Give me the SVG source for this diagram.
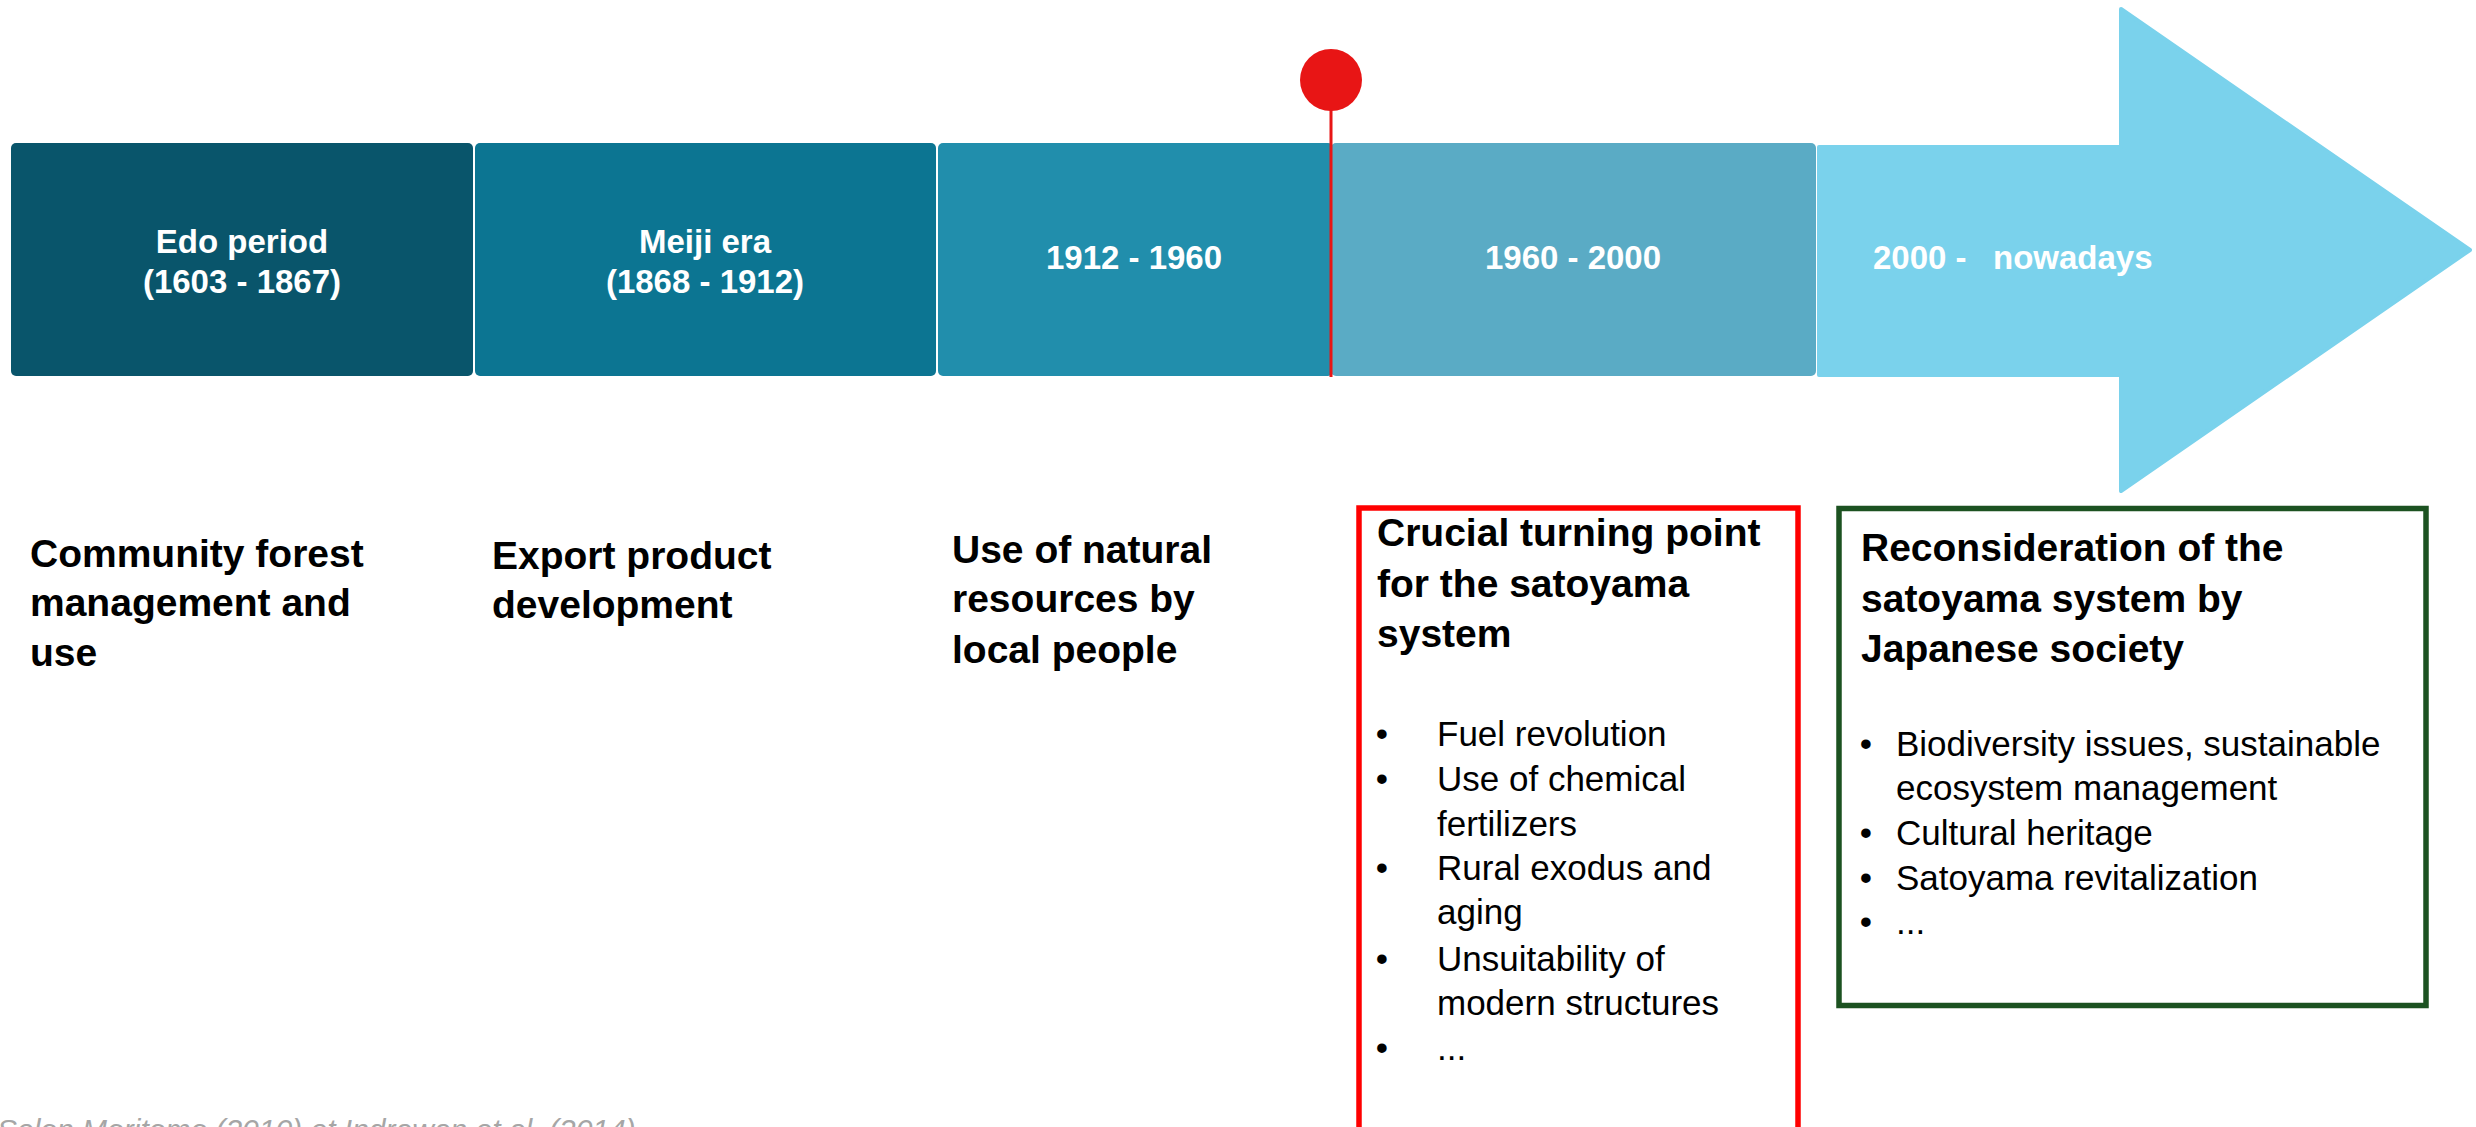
<svg xmlns="http://www.w3.org/2000/svg" width="2476" height="1127" viewBox="0 0 2476 1127">
  <style>
    .era { font-family: "Liberation Sans", Arial, sans-serif; font-weight: bold; font-size: 33px; fill: #ffffff; }
    .head { font-family: "Liberation Sans", Arial, sans-serif; font-weight: bold; font-size: 39px; fill: #000000; }
    .bul { font-family: "Liberation Sans", Arial, sans-serif; font-size: 35px; fill: #000000; }
    .dot { font-family: "Liberation Sans", Arial, sans-serif; font-size: 35px; fill: #000000; text-anchor: middle; }
    .cite { font-family: "Liberation Sans", Arial, sans-serif; font-style: italic; font-size: 30px; fill: #a6a6a6; }
  </style>
  <rect x="0" y="0" width="2476" height="1127" fill="#ffffff"/>

  <g id="node-edo">
    <rect x="11" y="143" width="462" height="233" rx="5" fill="#09556b"/>
    <text class="era" x="242" y="253" text-anchor="middle">Edo period</text>
    <text class="era" x="242" y="293" text-anchor="middle">(1603 - 1867)</text>
  </g>
  <g id="node-meiji">
    <rect x="475" y="143" width="461" height="233" rx="5" fill="#0c7592"/>
    <text class="era" x="705" y="253" text-anchor="middle">Meiji era</text>
    <text class="era" x="705" y="293" text-anchor="middle">(1868 - 1912)</text>
  </g>
  <g id="node-1912">
    <rect x="938" y="143" width="395" height="233" rx="5" fill="#218eac"/>
    <text class="era" x="1134" y="269" text-anchor="middle">1912 - 1960</text>
  </g>
  <g id="node-1960">
    <rect x="1331" y="143" width="485" height="233" rx="5" fill="#5aabc5"/>
    <text class="era" x="1573" y="269" text-anchor="middle">1960 - 2000</text>
  </g>
  <g id="node-2000">
    <polygon points="1819,147 2121,147 2121,9 2470,250 2121,491 2121,375 1819,375" fill="#7ad2ec" stroke="#7ad2ec" stroke-width="4" stroke-linejoin="round"/>
    <text class="era" x="1873" y="269">2000 -</text>
    <text class="era" x="1993" y="269">nowadays</text>
  </g>

  <g id="connectors">
    <line x1="1331" y1="80" x2="1331" y2="377" stroke="#e81515" stroke-width="3"/>
  </g>
  <g id="turning-point-marker">
    <circle cx="1331" cy="80" r="31" fill="#e81515"/>
  </g>

  <g id="desc-edo">
    <text class="head" x="30" y="567">Community forest</text>
    <text class="head" x="30" y="616">management and</text>
    <text class="head" x="30" y="666">use</text>
  </g>
  <g id="desc-meiji">
    <text class="head" x="492" y="569">Export product</text>
    <text class="head" x="492" y="618">development</text>
  </g>
  <g id="desc-1912">
    <text class="head" x="952" y="563">Use of natural</text>
    <text class="head" x="952" y="612">resources by</text>
    <text class="head" x="952" y="663">local people</text>
  </g>

  <g id="box-crucial">
    <rect x="1359" y="508" width="439" height="640" fill="none" stroke="#ff0000" stroke-width="5.5"/>
    <text class="head" x="1377" y="546">Crucial turning point</text>
    <text class="head" x="1377" y="597">for the satoyama</text>
    <text class="head" x="1377" y="647">system</text>
    <text class="dot" x="1382" y="746">•</text>
    <text class="bul" x="1437" y="746">Fuel revolution</text>
    <text class="dot" x="1382" y="791">•</text>
    <text class="bul" x="1437" y="791">Use of chemical</text>
    <text class="bul" x="1437" y="836">fertilizers</text>
    <text class="dot" x="1382" y="880">•</text>
    <text class="bul" x="1437" y="880">Rural exodus and</text>
    <text class="bul" x="1437" y="924">aging</text>
    <text class="dot" x="1382" y="971">•</text>
    <text class="bul" x="1437" y="971">Unsuitability of</text>
    <text class="bul" x="1437" y="1015">modern structures</text>
    <text class="dot" x="1382" y="1060">•</text>
    <text class="bul" x="1437" y="1060">...</text>
  </g>

  <g id="box-reconsideration">
    <rect x="1839" y="508.5" width="587" height="497" fill="none" stroke="#1c5221" stroke-width="5.5"/>
    <text class="head" x="1861" y="561">Reconsideration of the</text>
    <text class="head" x="1861" y="612">satoyama system by</text>
    <text class="head" x="1861" y="662">Japanese society</text>
    <text class="dot" x="1866" y="756">•</text>
    <text class="bul" x="1896" y="756">Biodiversity issues, sustainable</text>
    <text class="bul" x="1896" y="800">ecosystem management</text>
    <text class="dot" x="1866" y="845">•</text>
    <text class="bul" x="1896" y="845">Cultural heritage</text>
    <text class="dot" x="1866" y="890">•</text>
    <text class="bul" x="1896" y="890">Satoyama revitalization</text>
    <text class="dot" x="1866" y="934">•</text>
    <text class="bul" x="1896" y="934">...</text>
  </g>

  <g id="citation">
    <text class="cite" x="-3" y="1140">Selon Moritomo (2010) et Indrawan et al. (2014)</text>
  </g>
</svg>
